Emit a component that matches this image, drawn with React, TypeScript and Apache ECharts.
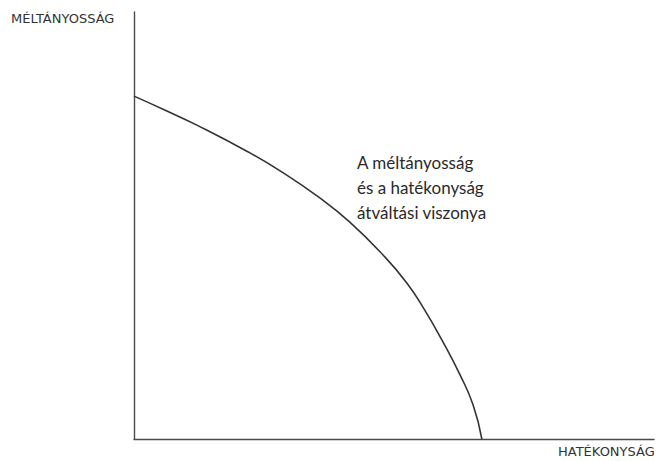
import React, { useEffect, useRef } from "react";
import * as echarts from "echarts";

const efficiency = [0, 6.0, 12.1, 21.7, 28.1, 35.8, 41.5, 47.9, 52.5, 55.8, 59.2, 62.7, 65.2, 66.9];
const equity = [80.3, 77.0, 73.5, 67.4, 62.8, 56.4, 50.8, 43.1, 36.5, 30.4, 23.2, 15.0, 8.0, 0];
const yAxisName = "MÉLTÁNYOSSÁG";
const xAxisName = "HATÉKONYSÁG";
const curveLabel = ["A méltányosság", "és a hatékonyság", "átváltási viszonya"];

export default function App() {
  const ref = useRef<HTMLDivElement>(null);
  useEffect(() => {
    if (!ref.current) return;
    const chart = echarts.init(ref.current, null, { renderer: "svg" });
    chart.setOption({
      animation: false,
      backgroundColor: "#ffffff",
      grid: { left: 134, right: 4, top: 12, bottom: 22 },
      xAxis: {
        type: "value",
        min: 0,
        max: 100,
        axisLine: { show: true, lineStyle: { color: "#4a4a4a", width: 1.4 } },
        axisTick: { show: false },
        axisLabel: { show: false },
        splitLine: { show: false },
      },
      yAxis: {
        type: "value",
        min: 0,
        max: 100,
        axisLine: { show: true, lineStyle: { color: "#4a4a4a", width: 1.4 } },
        axisTick: { show: false },
        axisLabel: { show: false },
        splitLine: { show: false },
      },
      series: [
        {
          type: "line",
          data: efficiency.map((x, i) => [x, equity[i]]),
          smooth: 0.5,
          showSymbol: false,
          lineStyle: { color: "#333", width: 1.6 },
        },
      ],
      graphic: [
        {
          type: "text",
          left: 11,
          top: 12,
          style: {
            text: yAxisName,
            fontSize: 13,
            fontFamily: "DejaVu Sans",
            fill: "#333",
          },
        },
        {
          type: "text",
          left: 558,
          top: 445,
          style: {
            text: xAxisName,
            fontSize: 13,
            fontFamily: "DejaVu Sans",
            fill: "#333",
          },
        },
        {
          type: "text",
          left: 357,
          top: 150,
          style: {
            text: curveLabel.join("\n"),
            fontSize: 17,
            fontFamily: "Lato",
            lineHeight: 25,
            fill: "#2a2a2a",
          },
        },
      ],
    });
    return () => chart.dispose();
  }, []);
  return (
    <div
      ref={ref}
      style={{ position: "fixed", left: 0, top: 0, width: 658, height: 461 }}
    />
  );
}
